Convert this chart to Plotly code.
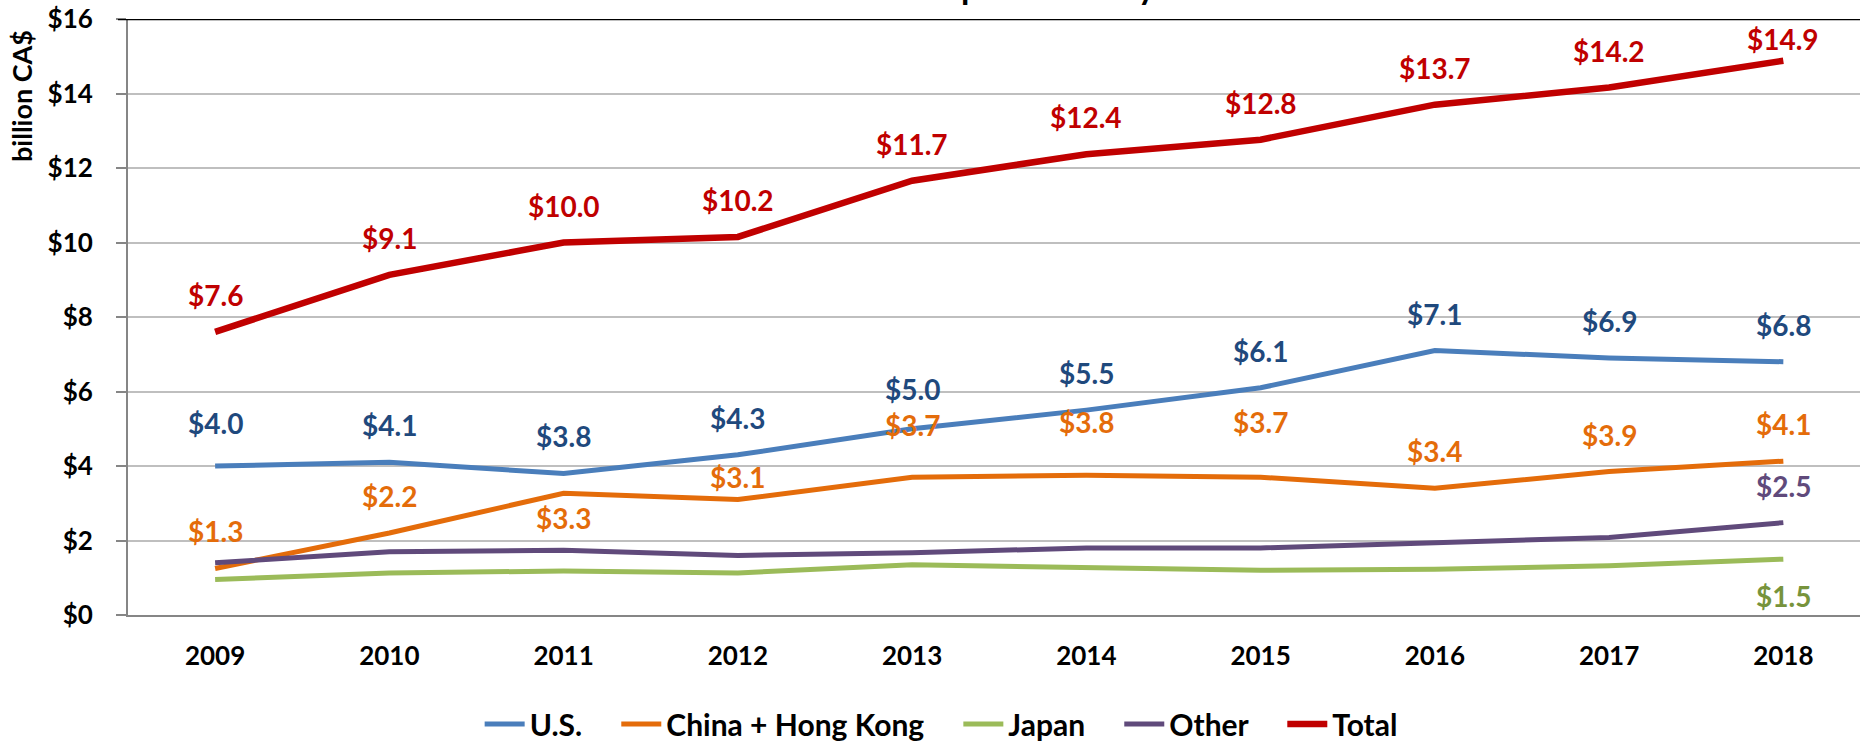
import plotly.graph_objects as go

years = ["2009", "2010", "2011", "2012", "2013", "2014", "2015", "2016", "2017", "2018"]
us = [4.0, 4.1, 3.8, 4.3, 5.0, 5.5, 6.1, 7.1, 6.9, 6.8]
china_hk = [1.25, 2.2, 3.27, 3.1, 3.7, 3.75, 3.7, 3.4, 3.85, 4.13]
japan = [0.95, 1.13, 1.18, 1.13, 1.35, 1.28, 1.2, 1.23, 1.32, 1.5]
other = [1.4, 1.7, 1.74, 1.6, 1.67, 1.8, 1.8, 1.93, 2.08, 2.48]
total = [7.6, 9.13, 10.0, 10.15, 11.66, 12.37, 12.76, 13.7, 14.16, 14.88]

us_labels = ["$4.0", "$4.1", "$3.8", "$4.3", "$5.0", "$5.5", "$6.1", "$7.1", "$6.9", "$6.8"]
china_labels = ["$1.3", "$2.2", "$3.3", "$3.1", "$3.7", "$3.8", "$3.7", "$3.4", "$3.9", "$4.1"]
japan_labels = [None, None, None, None, None, None, None, None, None, "$1.5"]
other_labels = [None, None, None, None, None, None, None, None, None, "$2.5"]
total_labels = ["$7.6", "$9.1", "$10.0", "$10.2", "$11.7", "$12.4", "$12.8", "$13.7", "$14.2", "$14.9"]

FONT = "Lato"
series = [
    ("U.S.", us, us_labels, "#4A7EBB", "#1F497D", 5),
    ("China + Hong Kong", china_hk, china_labels, "#E46C0A", "#E46C0A", 5),
    ("Japan", japan, japan_labels, "#9BBB59", "#77933C", 5),
    ("Other", other, other_labels, "#604A7B", "#604A7B", 5),
    ("Total", total, total_labels, "#C00000", "#C00000", 6.5),
]
# label vertical offsets in px (layout only)
default_shift = 37
shift_override = {
    ("U.S.", 0): 43,
    ("U.S.", 4): 40,
    ("China + Hong Kong", 2): -25,
    ("China + Hong Kong", 3): 23,
    ("China + Hong Kong", 4): 52,
    ("China + Hong Kong", 5): 53,
    ("China + Hong Kong", 6): 55,
    ("Japan", 9): -37,
    ("Total", 9): 22,
}

PW = 1732  # plot width in px
PH = 596   # plot height in px
NB = "\u00a0"
xs = list(range(len(years)))
fig = go.Figure()
annotations = []
for k, (name, vals, labels, lc, tc, w) in enumerate(series):
    legend_name = name + (NB * 4 if k < len(series) - 1 else "")
    fig.add_trace(go.Scatter(x=xs, y=vals, mode="lines", name=legend_name,
                             line=dict(color=lc, width=w)))
    for i, (v, lab) in enumerate(zip(vals, labels)):
        if lab is None:
            continue
        annotations.append(dict(x=xs[i], y=v, xref="x", yref="y", text=lab,
                                showarrow=False, yshift=shift_override.get((name, i), default_shift),
                                font=dict(family=FONT, size=28, color=tc, weight="bold"),
                                xanchor="center", yanchor="middle"))

# y-axis title
annotations.append(dict(text="billion CA$", xref="paper", yref="paper", x=(21 - 128) / PW,
                        y=1, yanchor="top", xanchor="center", textangle=-90, showarrow=False,
                        yshift=-9,
                        font=dict(family=FONT, size=27, color="black", weight="bold")))
# chart title (mostly cropped off at the top of the image)
annotations.append(dict(text="Canadian Export Sales by Destination", xref="paper", yref="paper",
                        x=(1058 - 128) / PW, y=1 + 11 / PH, xanchor="center", yanchor="bottom",
                        showarrow=False, font=dict(family=FONT, size=34, color="black", weight="bold")))

fig.update_layout(
    width=1860, height=750,
    margin=dict(l=128, r=0, t=19, b=135),
    plot_bgcolor="white", paper_bgcolor="white",
    annotations=annotations,
    showlegend=True,
    legend=dict(orientation="h", xref="container", yref="container", x=0.506, y=-0.008,
                xanchor="center", yanchor="bottom",
                font=dict(family=FONT, size=30, color="black", weight="bold"),
                itemwidth=40, tracegroupgap=0),
    font=dict(family=FONT),
    shapes=[dict(type="line", xref="paper", yref="y", x0=-10 / PW, x1=1, y0=16, y1=16,
                 line=dict(color="black", width=2.5), layer="above")],
)
fig.update_xaxes(range=[-0.5, 9.44], tickmode="array", tickvals=xs, ticktext=years,
                 showgrid=False, showline=True, linecolor="#868686", linewidth=2,
                 ticks="", ticklabelstandoff=17, zeroline=False,
                 tickfont=dict(family=FONT, size=26, color="black", weight="bold"))
fig.update_yaxes(range=[0, 16], tickvals=list(range(0, 17, 2)),
                 ticktext=["$" + str(v) for v in range(0, 17, 2)],
                 showgrid=True, gridcolor="#BFBFBF", gridwidth=1.5,
                 showline=True, linecolor="#868686", linewidth=2,
                 ticks="outside", ticklen=10, tickcolor="#868686", tickwidth=2,
                 ticklabelstandoff=18, zeroline=False,
                 tickfont=dict(family=FONT, size=26, color="black", weight="bold"))

fig.write_html("out.html", config={"displayModeBar": False},
               post_script="document.body.style.margin='0';document.body.style.overflow='hidden';")
